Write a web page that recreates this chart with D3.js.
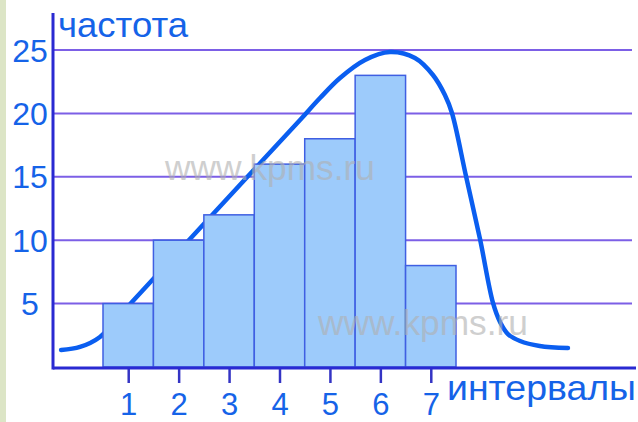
<!DOCTYPE html>
<html><head><meta charset="utf-8">
<script src="https://cdn.jsdelivr.net/npm/d3@7"></script>
<style>
html,body{margin:0;padding:0;background:#fff;}
svg{display:block;}
</style></head>
<body>
<svg id="chart" width="638" height="422"></svg>
<script>
// ---- data ----
const categories = [1, 2, 3, 4, 5, 6, 7];
const counts = [5, 10, 12, 16, 18, 23, 8];
const yTicks = [5, 10, 15, 20, 25];
const curveX = [-0.33, 0.044, 0.44, 1.075, 2.225, 3.415, 4.407, 4.803, 5.20, 5.695, 6.19, 6.686, 7.043, 7.28, 7.42, 7.698, 7.976, 8.234, 8.373, 8.53, 8.77, 9.16, 9.72];
const curveY = [1.34, 1.58, 2.37, 5.13, 10.09, 15.22, 19.48, 21.21, 22.79, 24.21, 24.84, 24.37, 23.03, 21.45, 20.03, 15.06, 10.09, 5.05, 3.55, 2.60, 2.05, 1.66, 1.50];
const yTitle = "частота";
const xTitle = "интервалы";
const watermark = "www.kpms.ru";

// ---- layout ----
const svg = d3.select("#chart");
const axisX0 = 53, axisRight = 636, gridRight = 632, axisTop = 13;
const x = d3.scaleLinear().domain([0.5, 7.5]).range([103, 456]);
const y = d3.scaleLinear().domain([0, 25]).range([367, 50]);
const font = "Arial, 'Liberation Sans', sans-serif";
const textColor = "#1563e8";

// left strip
svg.append("rect").attr("x", 0).attr("y", 0).attr("width", 6).attr("height", 422).attr("fill", "#dce5c6");

// gridlines
svg.append("g").selectAll("line").data(yTicks).join("line")
  .attr("x1", axisX0).attr("x2", gridRight)
  .attr("y1", d => y(d)).attr("y2", d => y(d))
  .attr("stroke", "#7c5fe6").attr("stroke-width", 2);

// curve (behind bars)
const pts = curveX.map((v, i) => [v, curveY[i]]);
svg.append("path").datum(pts)
  .attr("d", d3.line().x(d => x(d[0])).y(d => y(d[1])).curve(d3.curveCatmullRom.alpha(0.5)))
  .attr("fill", "none").attr("stroke", "#0a5ef0").attr("stroke-width", 4.5).attr("stroke-linecap", "round");

// bars
svg.append("g").selectAll("rect").data(counts).join("rect")
  .attr("x", (d, i) => x(categories[i] - 0.5))
  .attr("width", (d, i) => x(categories[i] + 0.5) - x(categories[i] - 0.5))
  .attr("y", d => y(d))
  .attr("height", d => y(0) - y(d))
  .attr("fill", "#9dcbfb").attr("stroke", "#3f5fe2").attr("stroke-width", 1.5);

// x axis ticks + labels
const gx = svg.append("g").attr("transform", "translate(0,368)")
  .call(d3.axisBottom(x).tickValues(categories).tickSize(15).tickFormat(d3.format("d")));
gx.select(".domain").remove();
gx.selectAll(".tick line").attr("stroke", "#3434c4").attr("stroke-width", 2.5);
gx.selectAll(".tick text").attr("y", 47).attr("dy", null)
  .attr("font-family", font).attr("font-size", 31).attr("fill", textColor);

// y axis labels
const gy = svg.append("g").attr("transform", "translate(30,0)")
  .call(d3.axisLeft(y).tickValues(yTicks).tickSize(0).tickPadding(0));
gy.select(".domain").remove();
gy.selectAll(".tick text").attr("x", 0).attr("dy", null).attr("y", 11)
  .attr("text-anchor", "middle")
  .attr("font-family", font).attr("font-size", 32).attr("fill", textColor);

// axis lines
svg.append("line").attr("x1", axisX0).attr("x2", axisRight).attr("y1", 368).attr("y2", 368)
  .attr("stroke", "#2a2ad2").attr("stroke-width", 3);
svg.append("line").attr("x1", axisX0).attr("x2", axisX0).attr("y1", axisTop).attr("y2", 369.5)
  .attr("stroke", "#2a2ad2").attr("stroke-width", 3);

// titles
svg.append("text").attr("x", 58).attr("y", 37).text(yTitle)
  .attr("font-family", font).attr("font-size", 35).attr("fill", textColor)
  .attr("textLength", 130).attr("lengthAdjust", "spacingAndGlyphs");
svg.append("text").attr("x", 447).attr("y", 400).text(xTitle)
  .attr("font-family", font).attr("font-size", 35).attr("fill", textColor)
  .attr("textLength", 189).attr("lengthAdjust", "spacingAndGlyphs");

// watermarks
[[165, 180], [318, 335]].forEach(p => {
  svg.append("text").attr("x", p[0]).attr("y", p[1]).text(watermark)
    .attr("font-family", font).attr("font-size", 35).attr("fill", "#b0b0b0").attr("opacity", 0.6)
    .attr("textLength", 210).attr("lengthAdjust", "spacingAndGlyphs");
});
</script>
</body></html>
